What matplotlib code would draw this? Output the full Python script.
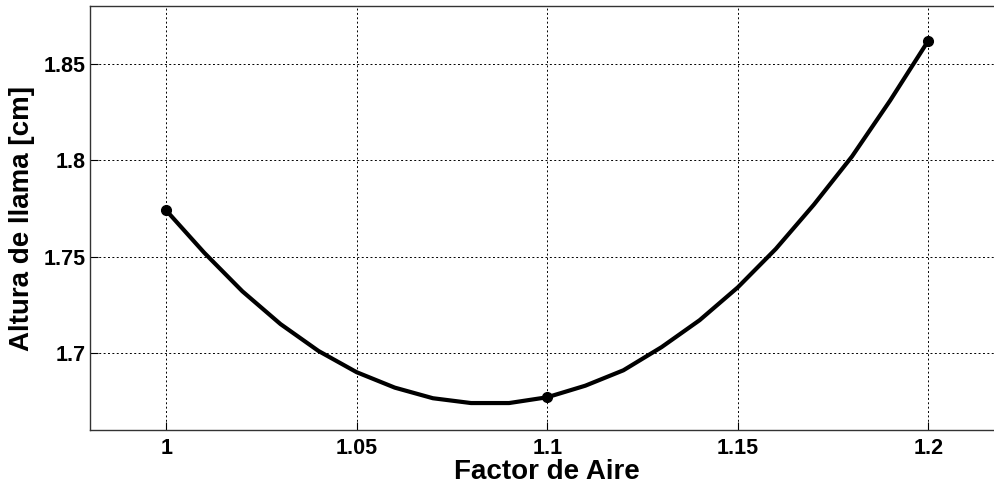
import matplotlib
matplotlib.use("Agg")
import matplotlib.pyplot as plt

plt.rcParams['font.family'] = ['Liberation Sans', 'DejaVu Sans']

# measured points
factor = [1.0, 1.1, 1.2]
altura = [1.774, 1.677, 1.862]

# smooth curve
curva_x = [1.00, 1.01, 1.02, 1.03, 1.04, 1.05, 1.06, 1.07, 1.08, 1.09, 1.10,
           1.11, 1.12, 1.13, 1.14, 1.15, 1.16, 1.17, 1.18, 1.19, 1.20]
curva_y = [1.774, 1.752, 1.732, 1.715, 1.701, 1.690, 1.682, 1.6765, 1.674, 1.674, 1.677,
           1.683, 1.691, 1.703, 1.717, 1.734, 1.754, 1.777, 1.802, 1.831, 1.862]

xticks = [1, 1.05, 1.1, 1.15, 1.2]
xlabels = ['1', '1.05', '1.1', '1.15', '1.2']
yticks = [1.7, 1.75, 1.8, 1.85]
ylabels = ['1.7', '1.75', '1.8', '1.85']

fig = plt.figure(figsize=(9.94, 4.87), dpi=100)
ax = fig.add_axes([0.0905, 0.117, 0.920, 0.8704])

ax.plot(curva_x, curva_y, color='black', linewidth=3, solid_joinstyle='round')
ax.plot(factor, altura, 'o', color='black', markersize=7)

ax.set_xlim(0.98, 1.22)
ax.set_ylim(1.66, 1.88)
ax.set_xticks(xticks)
ax.set_xticklabels(xlabels, fontsize=15.5, fontweight='bold')
ax.set_yticks(yticks)
ax.set_yticklabels(ylabels, fontsize=15.5, fontweight='bold')
ax.tick_params(direction='in', length=6, width=0.8, colors='black')
ax.tick_params(axis='x', pad=6)
ax.tick_params(axis='y', pad=3)

ax.grid(True, color='black', linestyle=(0, (2, 2.5)), linewidth=0.7)
for s in ax.spines.values():
    s.set_color('#333333')
    s.set_linewidth(1)

ax.set_xlabel('Factor de Aire', fontsize=20, fontweight='bold', labelpad=0)
ax.set_ylabel('Altura de llama [cm]', fontsize=20, fontweight='bold', labelpad=6)

fig.savefig('out.png', dpi=100)
